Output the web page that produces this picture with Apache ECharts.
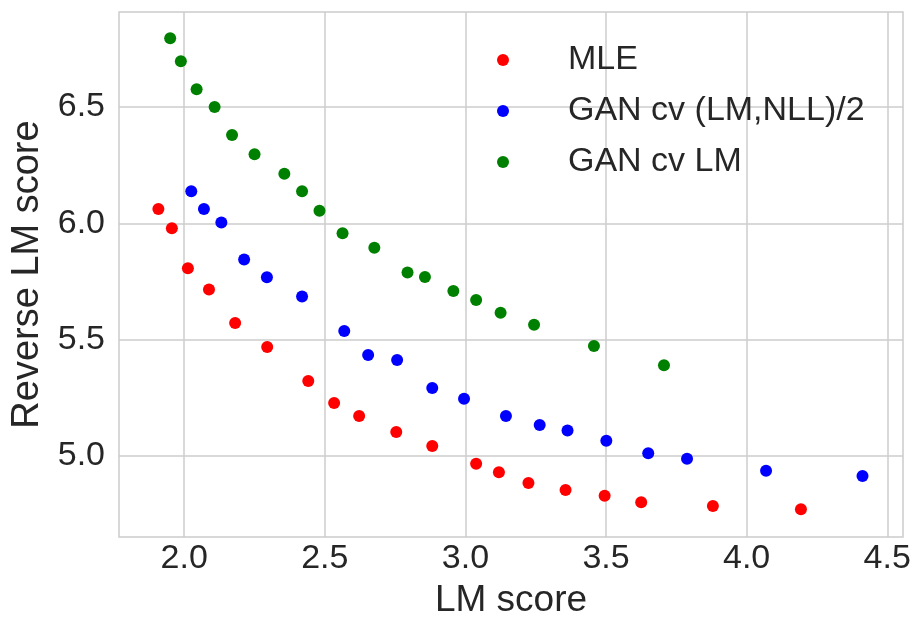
<!DOCTYPE html>
<html>
<head>
<meta charset="utf-8">
<script src="https://cdn.jsdelivr.net/npm/echarts@6/dist/echarts.min.js"></script>
<style>
  html, body { margin: 0; padding: 0; background: #fff; }
  #chart { width: 911px; height: 618px; }
</style>
</head>
<body>
<div id="chart"></div>
<script>
// values
const mleX = [1.908, 1.956, 2.013, 2.088, 2.181, 2.295, 2.441, 2.533, 2.622, 2.754, 2.882, 3.038, 3.119, 3.224, 3.356, 3.495, 3.625, 3.880, 4.193];
const mleY = [6.061, 5.979, 5.807, 5.716, 5.572, 5.468, 5.322, 5.228, 5.172, 5.103, 5.043, 4.967, 4.930, 4.884, 4.854, 4.829, 4.801, 4.785, 4.771];

const ganMixX = [2.025, 2.070, 2.132, 2.213, 2.294, 2.419, 2.569, 2.654, 2.757, 2.882, 2.995, 3.144, 3.264, 3.363, 3.501, 3.650, 3.788, 4.069, 4.412];
const ganMixY = [6.138, 6.061, 6.003, 5.844, 5.768, 5.685, 5.537, 5.434, 5.413, 5.292, 5.246, 5.172, 5.133, 5.110, 5.066, 5.012, 4.988, 4.937, 4.914];

const ganLmX = [1.950, 1.988, 2.044, 2.108, 2.170, 2.250, 2.356, 2.419, 2.481, 2.563, 2.676, 2.794, 2.856, 2.957, 3.038, 3.125, 3.244, 3.457, 3.706];
const ganLmY = [6.795, 6.696, 6.576, 6.500, 6.379, 6.297, 6.213, 6.138, 6.054, 5.957, 5.895, 5.789, 5.769, 5.709, 5.670, 5.616, 5.564, 5.473, 5.390];

const seriesNames = ['MLE', 'GAN cv (LM,NLL)/2', 'GAN cv LM'];
const seriesColors = ['#ff0000', '#0000ff', '#008000'];

const xTicks = [2.0, 2.5, 3.0, 3.5, 4.0, 4.5];
const yTicks = [5.0, 5.5, 6.0, 6.5];

const FONT = '"Liberation Sans", Arial, sans-serif';
const TEXT = '#262626';
const GRID = '#cccccc';

const zip = (xs, ys) => xs.map((x, i) => [x, ys[i]]);

const chart = echarts.init(document.getElementById('chart'), null, {renderer: 'canvas'});

const mkSeries = (name, color, data) => ({
  name: name,
  type: 'scatter',
  symbol: 'circle',
  symbolSize: 12,
  itemStyle: {color: color, opacity: 1},
  emphasis: {disabled: true},
  data: data
});

const option = {
  animation: false,
  backgroundColor: '#ffffff',
  textStyle: {fontFamily: FONT, color: TEXT},
  grid: {
    left: 119, right: 8, top: 12, bottom: 81,
    show: true,
    borderColor: GRID,
    borderWidth: 1.5,
    containLabel: false,
    outerBoundsMode: 'none'
  },
  legend: {
    orient: 'vertical',
    left: 497,
    top: 43,
    padding: 0,
    itemWidth: 120,
    itemHeight: 12,
    itemGap: 17,
    icon: 'circle',
    textStyle: {fontFamily: FONT, fontSize: 34, color: TEXT},
    data: seriesNames
  },
  xAxis: {
    type: 'value',
    min: 1.768,
    max: 4.556,
    name: 'LM score',
    nameLocation: 'middle',
    nameGap: 45,
    nameTextStyle: {fontFamily: FONT, fontSize: 37, color: TEXT},
    axisLine: {show: false},
    axisTick: {show: false, customValues: xTicks},
    axisLabel: {
      customValues: xTicks,
      margin: 5,
      fontFamily: FONT, fontSize: 34, color: TEXT,
      formatter: v => v.toFixed(1)
    },
    splitLine: {show: true, lineStyle: {color: GRID, width: 1.5}}
  },
  yAxis: {
    type: 'value',
    min: 4.652,
    max: 6.908,
    name: 'Reverse LM score',
    nameLocation: 'middle',
    nameGap: 72,
    nameTextStyle: {fontFamily: FONT, fontSize: 38, color: TEXT},
    axisLine: {show: false},
    axisTick: {show: false, customValues: yTicks},
    axisLabel: {
      customValues: yTicks,
      margin: 14,
      fontFamily: FONT, fontSize: 34, color: TEXT,
      formatter: v => v.toFixed(1)
    },
    splitLine: {show: true, lineStyle: {color: GRID, width: 1.5}}
  },
  series: [
    mkSeries(seriesNames[0], seriesColors[0], zip(mleX, mleY)),
    mkSeries(seriesNames[1], seriesColors[1], zip(ganMixX, ganMixY)),
    mkSeries(seriesNames[2], seriesColors[2], zip(ganLmX, ganLmY))
  ]
};

chart.setOption(option);
</script>
</body>
</html>
